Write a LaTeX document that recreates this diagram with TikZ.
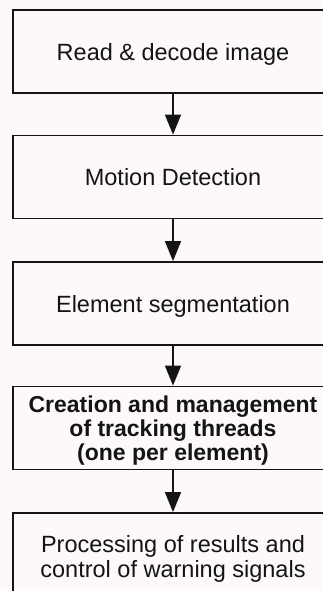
\documentclass[tikz,border=0pt]{standalone}
\usepackage{fontspec}
\setmainfont{Liberation Sans}
\usetikzlibrary{arrows.meta}
\definecolor{paper}{RGB}{252,249,248}
\definecolor{ink}{RGB}{20,20,20}
\tikzset{
  stage/.style={draw=ink, line width=1.8pt, fill=paper, rectangle,
    minimum width=320pt, minimum height=83pt, inner sep=0pt, align=center,
    text depth=0pt, text=ink, font=\fontsize{23.5}{25.5}\selectfont},
  flow/.style={draw=ink, line width=1.5pt,
    -{Triangle[length=20pt,width=16pt]}},
}
\begin{document}
\begin{tikzpicture}[x=1pt,y=-1pt]
  \fill[paper] (0,0) rectangle (323,591);
  \useasboundingbox (0,0) rectangle (323,591);
  \clip (0,0) rectangle (323,591);
  \node[stage] (read)    at (173,51.5)  {Read \& decode image};
  \node[stage] (motion)  at (173,177)   {Motion Detection};
  \node[stage] (segment) at (173,303.5) {Element segmentation};
  \node[stage, font=\bfseries\fontsize{23}{24}\selectfont] (track) at (173,428)
    {Creation and management\\of tracking threads\\(one per element)};
  \node[stage, minimum height=87pt] (result) at (173,556.5)
    {Processing of results and\\control of warning signals};
  \draw[flow] (read)    -- (motion);
  \draw[flow] (motion)  -- (segment);
  \draw[flow] (segment) -- (track);
  \draw[flow] (track)   -- (result);
\end{tikzpicture}
\end{document}
